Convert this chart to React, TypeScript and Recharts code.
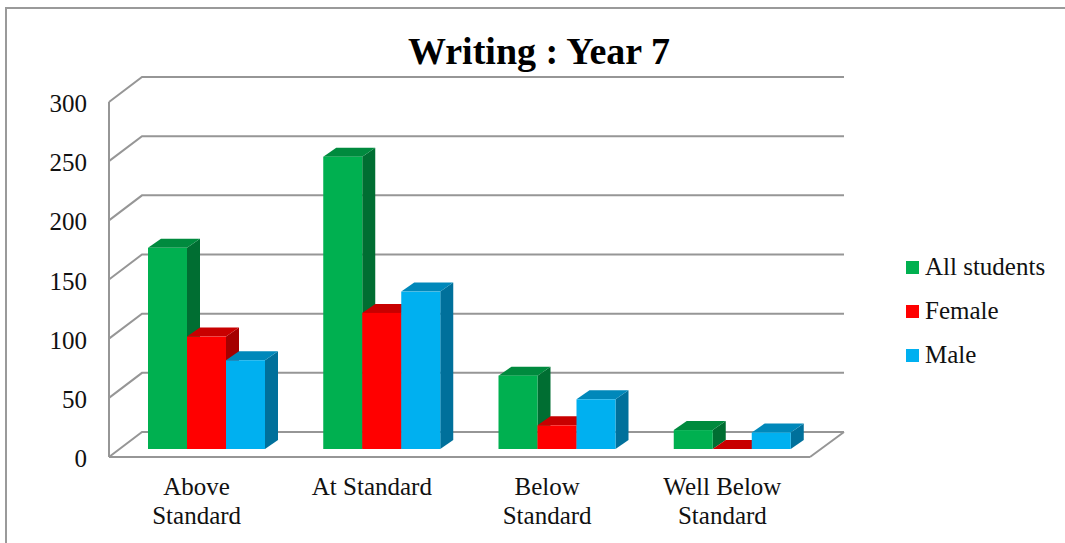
import React from "react";
import { Bar, BarChart, CartesianGrid, Legend, XAxis, YAxis } from "recharts";

const categories = ["Above\nStandard", "At Standard", "Below\nStandard", "Well Below\nStandard"];
const allStudents = [170, 247, 62, 16];
const female = [95, 115, 20, 0];
const male = [75, 133, 42, 14];
const yTicks = [0, 50, 100, 150, 200, 250, 300];

const data = categories.map((name, i) => ({
  name,
  all: allStudents[i],
  female: female[i],
  male: male[i],
}));

const FONT = "'Liberation Serif', serif";
const GRID = "#969696";
const PLOT_BOTTOM = 457;

const SHADES: Record<string, { top: string; side: string }> = {
  "#00b050": { top: "#008a3e", side: "#006e32" },
  "#ff0000": { top: "#c80000", side: "#a50000" },
  "#00b0f0": { top: "#0088ba", side: "#00709b" },
};

// front face sits part way into the floor, top and side faces give the depth
function Box3D({ x, y, width, height, fill }: any) {
  const fx = x + 10;
  const fy = y - 8;
  const dx = 13;
  const dy = 9;
  const shade = SHADES[fill];
  return (
    <g>
      <path
        d={`M${fx + width} ${fy}L${fx + width + dx} ${fy - dy}V${fy + height - dy}L${fx + width} ${fy + height}Z`}
        fill={shade.side}
      />
      <path
        d={`M${fx} ${fy}L${fx + dx} ${fy - dy}H${fx + width + dx}L${fx + width} ${fy}Z`}
        fill={shade.top}
      />
      <rect x={fx} y={fy} width={width} height={height} fill={fill} />
    </g>
  );
}

function WallLine({ x1, y1, x2 }: any) {
  const back = `M${x1} ${y1}L${x1 + 33} ${y1 - 25}H${x2 + 34}`;
  const floor = Math.abs(y1 - PLOT_BOTTOM) < 1 ? `M${x2} ${y1}L${x2 + 34} ${y1 - 25}` : "";
  return <path key={y1} d={back + floor} fill="none" stroke={GRID} strokeWidth={2} />;
}

function CategoryTick({ x, y, payload }: any) {
  const lines = String(payload.value).split("\n");
  return (
    <text x={x} y={y} textAnchor="middle" fontFamily={FONT} fontSize={25} fill="#111">
      {lines.map((line, i) => (
        <tspan key={i} x={x} dy={i === 0 ? 0 : 29}>
          {line}
        </tspan>
      ))}
    </text>
  );
}

function ValueTick({ x, y, payload }: any) {
  return (
    <text x={x + 4} y={y + 10} textAnchor="end" fontFamily={FONT} fontSize={25} fill="#111">
      {payload.value}
    </text>
  );
}

function SideLegend({ payload }: any) {
  return (
    <div style={{ fontFamily: FONT, fontSize: 25, color: "#111" }}>
      {payload.map((item: any) => (
        <div key={item.value} style={{ display: "flex", alignItems: "center", height: 44 }}>
          <span style={{ width: 13, height: 13, background: item.color, marginRight: 6 }} />
          {item.value}
        </div>
      ))}
    </div>
  );
}

export default function App() {
  return (
    <div style={{ position: "absolute", left: 0, top: 0, width: 1065, height: 543, background: "#fff" }}>
      <div
        style={{
          position: "absolute",
          left: 5,
          top: 7,
          right: 0,
          bottom: 0,
          borderLeft: "2px solid #9a9a9a",
          borderTop: "2px solid #9a9a9a",
        }}
      />
      <div style={{ position: "absolute", left: 0, top: 0 }}>
        <BarChart
          width={1065}
          height={543}
          data={data}
          barSize={39}
          barGap={0}
          margin={{ top: 102, right: 255, bottom: 26, left: 49 }}
        >
          <text x={539} y={64} textAnchor="middle" fontFamily={FONT} fontWeight="bold" fontSize={38} fill="#000">
            Writing : Year 7
          </text>
          <CartesianGrid vertical={false} horizontal={WallLine} />
          <XAxis
            dataKey="name"
            height={60}
            interval={0}
            tickLine={false}
            axisLine={{ stroke: GRID, strokeWidth: 2 }}
            tick={<CategoryTick />}
            tickMargin={32}
          />
          <YAxis
            width={60}
            domain={[0, 300]}
            ticks={yTicks}
            tickLine={false}
            axisLine={{ stroke: GRID, strokeWidth: 2 }}
            tick={<ValueTick />}
            tickMargin={20}
          />
          <Legend
            layout="vertical"
            align="center"
            verticalAlign="middle"
            content={<SideLegend />}
            wrapperStyle={{ left: 906, top: 245, width: 159, bottom: "auto" }}
          />
          <Bar dataKey="all" name="All students" fill="#00b050" shape={<Box3D />} isAnimationActive={false} />
          <Bar dataKey="female" name="Female" fill="#ff0000" shape={<Box3D />} isAnimationActive={false} />
          <Bar dataKey="male" name="Male" fill="#00b0f0" shape={<Box3D />} isAnimationActive={false} />
        </BarChart>
      </div>
    </div>
  );
}
